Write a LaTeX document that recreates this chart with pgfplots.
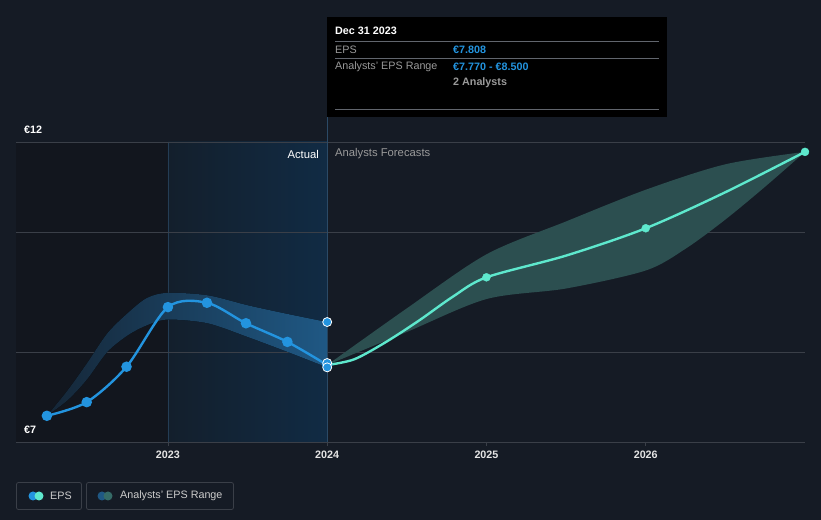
\documentclass[border=0pt]{standalone}
\usepackage{pgfplots}
\pgfplotsset{compat=1.18}
\usepgfplotslibrary{fillbetween}
\usepackage{fontspec}
\setmainfont{Liberation Sans}

\definecolor{bg}{HTML}{151B25}
\definecolor{darkzone}{HTML}{12161E}
\definecolor{actl}{HTML}{131F2C}
\definecolor{actr}{HTML}{112B44}
\definecolor{gridc}{HTML}{3A3F48}
\definecolor{epsblue}{HTML}{2394DF}
\definecolor{teal}{HTML}{5EE8CD}
\definecolor{bandblue}{HTML}{1F5884}
\definecolor{bandteal}{HTML}{2C4F50}
\definecolor{txtgray}{HTML}{9A9A9A}
\definecolor{vline}{HTML}{2B4A66}

\newcommand{\fs}{\fontsize{10.8}{12}\selectfont}

\begin{document}
\begin{tikzpicture}[font=\fs]

% x = years after 2022
\begin{axis}[
    at={(16bp,78bp)}, anchor=south west,
    scale only axis, width=789bp, height=300bp,
    xmin=0.046, xmax=5,
    ymin=6.568, ymax=11.399,
    set layers, clip=false,
    axis line style={draw=none},
    ytick=\empty,
    xtick={1,2,3,4},
    xticklabels={2023,2024,2025,2026},
    xtick pos=bottom, tick align=outside,
    major tick length=4bp,
    xtick style={gridc, line width=0.8pt},
    xticklabel style={text=white!90!black, yshift=-1bp, font=\fs\bfseries},
]
\begin{pgfonlayer}{axis background}
\fill[bg] (rel axis cs:-0.020279,-0.26) rectangle (rel axis cs:1.020279,1.473333);
\fill[darkzone] (axis cs:0.046,6.568) rectangle (axis cs:1,11.399);
\shade[left color=actl, right color=actr] (axis cs:1,6.568) rectangle (axis cs:2,11.399);
\draw[color=vline!70!actl, line width=0.6pt] (axis cs:1,6.568) -- (axis cs:1,11.399);
\draw[gridc, line width=0.8pt] (axis cs:0.046,8.017) -- (axis cs:5,8.017);
\draw[gridc, line width=0.8pt] (axis cs:0.046,9.949) -- (axis cs:5,9.949);
\draw[gridc, line width=0.8pt] (axis cs:0.046,11.399) -- (axis cs:5,11.399);
\draw[gridc, line width=0.8pt] (axis cs:0.046,6.568) -- (axis cs:5,6.568);
\draw[vline, line width=0.8pt] (axis cs:2,6.568) -- (axis cs:2,11.399);
\end{pgfonlayer}

% actual band
\addplot[draw=none, smooth, name path=au] coordinates {
  (0.24,6.99) (0.37,7.40) (0.49,7.83) (0.62,8.32) (0.75,8.65) (0.87,8.89)
  (1,8.97) (1.25,8.93) (1.5,8.77) (1.75,8.63) (2,8.5)};
\addplot[draw=none, smooth, name path=al] coordinates {
  (0.24,6.99) (0.37,7.24) (0.49,7.57) (0.62,8.02) (0.75,8.29) (0.87,8.45)
  (1,8.54) (1.25,8.48) (1.5,8.26) (1.75,8.02) (2,7.77)};
\addplot[left color=bandblue!25!darkzone, middle color=bandblue, right color=bandblue]
  fill between[of=au and al];

% forecast band
\addplot[draw=none, smooth, name path=fu] coordinates {
  (2,7.808) (2.5,8.72) (3,9.59) (3.5,10.12) (4,10.63)
  (4.5,11.04) (5,11.24)};
\addplot[draw=none, smooth, name path=fl] coordinates {
  (2,7.808) (2.5,8.34) (3,8.87) (3.5,9.04) (4,9.33) (4.25,9.68)
  (4.5,10.15) (4.75,10.68) (5,11.24)};
\addplot[bandteal] fill between[of=fu and fl];

% EPS actual
\addplot[epsblue, line width=2.4pt, smooth, mark=*, mark size=4bp,
  mark options={fill=epsblue, draw=epsblue}] coordinates {
  (0.24,6.99) (0.49,7.21) (0.74,7.78) (1,8.74) (1.245,8.81)
  (1.49,8.48) (1.75,8.18) (2,7.808)};

% EPS forecast
\addplot[teal, line width=2.4pt, smooth] coordinates {
  (2,7.808) (2.17,7.90) (2.37,8.18) (2.58,8.53) (2.79,8.91) (3,9.22)
  (3.5,9.57) (4,10.01) (4.5,10.59) (5,11.24)};
\addplot[only marks, teal, mark=*, mark size=4bp] coordinates {
  (3,9.22) (4,10.01) (5,11.24)};

% tooltip markers at Dec 31 2023
\addplot[only marks, mark=*, mark size=4.5bp,
  mark options={fill=epsblue, draw=white, line width=0.8pt}] coordinates {
  (2,8.5) (2,7.84) (2,7.77)};
\end{axis}

\begin{scope}[yshift=520bp, x=1bp, y=-1bp]
  % tooltip
  \draw[vline, line width=0.8pt] (327,117) -- (327,142);
  \fill[black] (327,17) rectangle (667,117);
  \draw[gridc!80!white, line width=0.6pt] (335,41.5) -- (659,41.5);
  \draw[gridc!80!white, line width=0.6pt] (335,58.5) -- (659,58.5);
  \draw[gridc!80!white, line width=0.6pt] (335,109.5) -- (659,109.5);
  \node[anchor=west, inner sep=0, text=white, font=\fs\bfseries] at (335,31) {Dec 31 2023};
  \node[anchor=west, inner sep=0, text=txtgray] at (335,49.5) {EPS};
  \node[anchor=west, inner sep=0, text=epsblue, font=\fs\bfseries] at (453,49.5) {€7.808};
  \node[anchor=west, inner sep=0, text=txtgray] at (335,66.5) {Analysts' EPS Range};
  \node[anchor=west, inner sep=0, text=epsblue, font=\fs\bfseries] at (453,66.5) {€7.770 - €8.500};
  \node[anchor=west, inner sep=0, text=txtgray, font=\fs\bfseries] at (453,83) {2 Analysts};

  % y labels
  \node[anchor=west, inner sep=0, text=white, font=\fs\bfseries] at (24,130) {€12};
  \node[anchor=west, inner sep=0, text=white, font=\fs\bfseries] at (24,430) {€7};

  % zone labels
  \node[anchor=east, inner sep=0, text=white, font=\fontsize{11.3}{13}\selectfont] at (319,154) {Actual};
  \node[anchor=west, inner sep=0, text=txtgray, font=\fontsize{11.3}{13}\selectfont] at (335,154) {Analysts Forecasts};

  % legend
  \draw[gridc, line width=0.8pt, rounded corners=2pt] (16.5,482.5) rectangle (81.5,509.5);
  \fill[epsblue] (33,496) circle (4.5);
  \fill[teal] (39,496) circle (4.5);
  \node[anchor=west, inner sep=0, text=white!80!black] at (50,496) {EPS};
  \draw[gridc, line width=0.8pt, rounded corners=2pt] (86.5,482.5) rectangle (233.5,509.5);
  \fill[bandblue] (102,496) circle (4.5);
  \fill[bandteal!70!teal!60!bandteal] (108,496) circle (4.5);
  \node[anchor=west, inner sep=0, text=white!80!black] at (120,496) {Analysts' EPS Range};
\end{scope}
\end{tikzpicture}
\end{document}
